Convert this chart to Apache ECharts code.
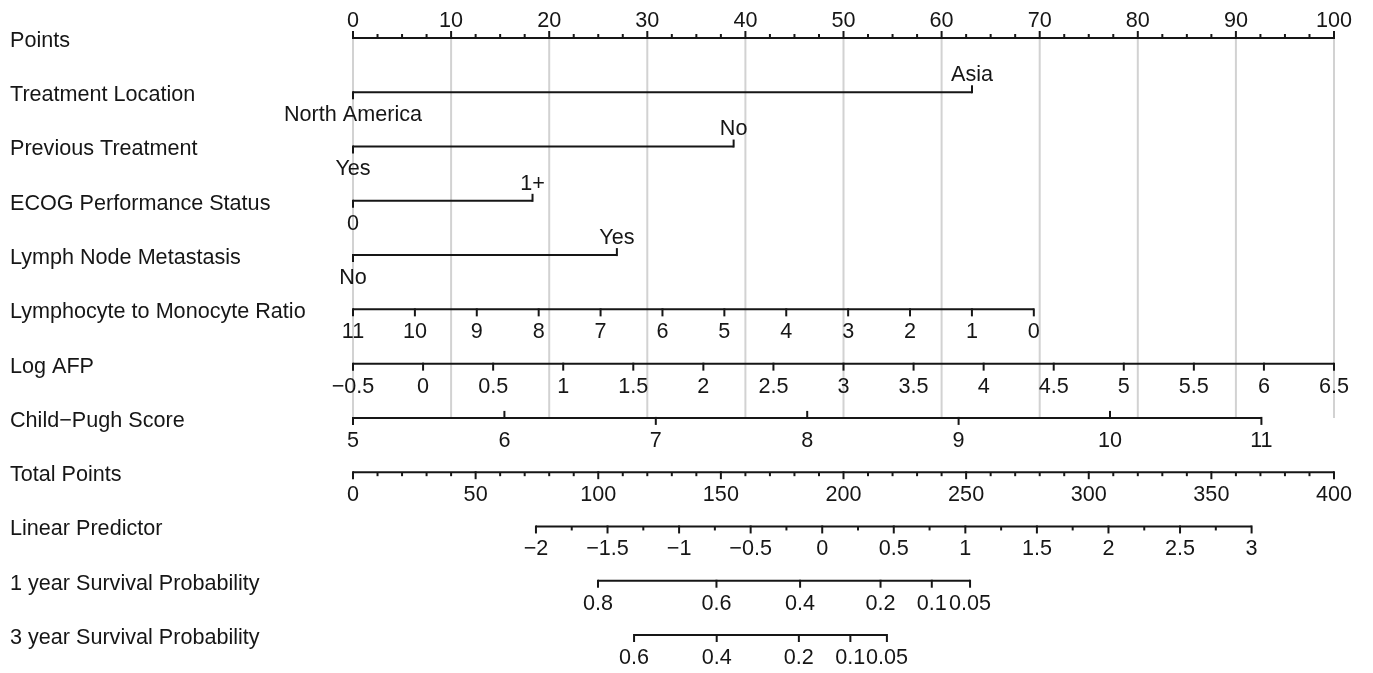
<!DOCTYPE html>
<html>
<head>
<meta charset="utf-8">
<title>Nomogram</title>
<script src="https://cdn.jsdelivr.net/npm/echarts@6/dist/echarts.min.js"></script>
<style>
  html, body { margin: 0; padding: 0; background: #fff; }
  #chart { width: 1373px; height: 673px; }
</style>
</head>
<body>
<div id="chart"></div>
<script>
// row titles, top to bottom
const rowNames = [
    'Points', 'Treatment Location', 'Previous Treatment', 'ECOG Performance Status',
    'Lymph Node Metastasis', 'Lymphocyte to Monocyte Ratio', 'Log AFP', 'Child\u2212Pugh Score',
    'Total Points', 'Linear Predictor', '1 year Survival Probability', '3 year Survival Probability'
];

const pointsTicks = [0, 10, 20, 30, 40, 50, 60, 70, 80, 90, 100];

// categorical predictors: levels and the points they score
const locationLevels = ['North America', 'Asia'];
const locationPoints = [0, 63.1];
const previousLevels = ['Yes', 'No'];
const previousPoints = [0, 38.8];
const ecogLevels = ['0', '1+'];
const ecogPoints = [0, 18.3];
const lymphLevels = ['No', 'Yes'];
const lymphPoints = [0, 26.9];

// continuous predictors: tick values and points at the two ends
const lmrTicks = [11, 10, 9, 8, 7, 6, 5, 4, 3, 2, 1, 0];
const lmrRange = [0, 69.4];
const afpTicks = [-0.5, 0, 0.5, 1, 1.5, 2, 2.5, 3, 3.5, 4, 4.5, 5, 5.5, 6, 6.5];
const afpRange = [0, 100];
const childTicks = [5, 6, 7, 8, 9, 10, 11];
const childRange = [0, 92.6];
const childTickUp = [false, true, false, true, false, true, false];

// outcome scales
const totalTicks = [0, 50, 100, 150, 200, 250, 300, 350, 400];
const lpTicks = [-2, -1.5, -1, -0.5, 0, 0.5, 1, 1.5, 2, 2.5, 3];
const lpTotalRange = [74.6, 366.4];
const surv1Ticks = [0.8, 0.6, 0.4, 0.2, 0.1, 0.05];
const surv1Total = [99.9, 148.2, 182.3, 215.1, 236.0, 251.6];
const surv3Ticks = [0.6, 0.4, 0.2, 0.1, 0.05];
const surv3Total = [114.6, 148.3, 181.8, 202.8, 217.7];

const ink = '#161616';
const gridGray = '#d2d2d2';
const fontSize = 21.6;
const fontFamily = '"Liberation Sans", Arial, sans-serif';
const font = fontSize + 'px ' + fontFamily;

function num(v) { return String(v).replace('-', '\u2212'); }
function lin(v, a, b, p0, p1) { return p0 + (v - a) / (b - a) * (p1 - p0); }
function totalToPoints(t) { return lin(t, 0, 400, 0, 100); }
function steps(from, to, step, skip) {
    let out = [];
    for (let k = 0; from + k * step <= to + 1e-9; k++) {
        let v = from + k * step;
        if (Math.abs(v / skip - Math.round(v / skip)) > 1e-6) out.push(v);
    }
    return out;
}
function categorical(levels, pts) {
    return {
        ticks: [
            { at: pts[0], text: levels[0], up: false, above: false },
            { at: pts[1], text: levels[1], up: true, above: true }
        ],
        minor: []
    };
}

const rows = [
    {
        ticks: pointsTicks.map(v => ({ at: v, text: num(v), up: true, above: true })),
        minor: steps(0, 100, 2.5, 10), minorUp: true
    },
    categorical(locationLevels, locationPoints),
    categorical(previousLevels, previousPoints),
    categorical(ecogLevels, ecogPoints),
    categorical(lymphLevels, lymphPoints),
    {
        ticks: lmrTicks.map(v => ({ at: lin(v, 11, 0, lmrRange[0], lmrRange[1]), text: num(v), up: false, above: false })),
        minor: []
    },
    {
        ticks: afpTicks.map(v => ({ at: lin(v, -0.5, 6.5, afpRange[0], afpRange[1]), text: num(v), up: false, above: false })),
        minor: []
    },
    {
        ticks: childTicks.map((v, i) => ({ at: lin(v, 5, 11, childRange[0], childRange[1]), text: num(v), up: childTickUp[i], above: false })),
        minor: []
    },
    {
        ticks: totalTicks.map(v => ({ at: totalToPoints(v), text: num(v), up: false, above: false })),
        minor: steps(0, 400, 10, 50).map(totalToPoints)
    },
    {
        ticks: lpTicks.map(v => ({ at: totalToPoints(lin(v, -2, 3, lpTotalRange[0], lpTotalRange[1])), text: num(v), up: false, above: false })),
        minor: steps(-2, 3, 0.25, 0.5).map(v => totalToPoints(lin(v, -2, 3, lpTotalRange[0], lpTotalRange[1])))
    },
    {
        ticks: surv1Ticks.map((v, i) => ({ at: totalToPoints(surv1Total[i]), text: num(v), up: false, above: false })),
        minor: []
    },
    {
        ticks: surv3Ticks.map((v, i) => ({ at: totalToPoints(surv3Total[i]), text: num(v), up: false, above: false })),
        minor: []
    }
];

function renderRow(params, api) {
    const idx = params.dataIndex;
    const row = rows[idx];
    const origin = api.coord([0, idx]);
    const y = origin[1];
    const px = v => api.coord([v, idx])[0];
    const children = [];
    // row title, left aligned
    children.push({
        type: 'text', x: origin[0] - 343, y: y + 3,
        style: { text: rowNames[idx], fill: ink, font: font, align: 'left', verticalAlign: 'middle' }
    });
    const xs = row.ticks.map(t => px(t.at));
    children.push({
        type: 'line',
        shape: { x1: Math.min.apply(null, xs), y1: y, x2: Math.max.apply(null, xs), y2: y },
        style: { stroke: ink, lineWidth: 2 }
    });
    row.minor.forEach(m => {
        const x = px(m);
        const d = row.minorUp ? -1 : 1;
        children.push({ type: 'line', shape: { x1: x, y1: y, x2: x, y2: y + d * 4 }, style: { stroke: ink, lineWidth: 2 } });
    });
    row.ticks.forEach(t => {
        const x = px(t.at);
        const d = t.up ? -1 : 1;
        children.push({ type: 'line', shape: { x1: x, y1: y - d, x2: x, y2: y + d * 7 }, style: { stroke: ink, lineWidth: 2 } });
        children.push({
            type: 'text', x: x, y: t.above ? y - 17 : y + 23,
            style: { text: t.text, fill: ink, font: font, align: 'center', verticalAlign: 'middle' }
        });
    });
    return { type: 'group', children: children };
}

function renderGuides(params, api) {
    const top = api.coord([0, 0])[1];
    const bottom = api.coord([0, 7])[1];
    return {
        type: 'group',
        children: pointsTicks.map(v => {
            const x = api.coord([v, 0])[0];
            return { type: 'line', shape: { x1: x, y1: top, x2: x, y2: bottom }, style: { stroke: gridGray, lineWidth: 2 } };
        })
    };
}

const chart = echarts.init(document.getElementById('chart'));
chart.setOption({
    backgroundColor: '#fff',
    animation: false,
    grid: { left: 353, right: 39, top: 38, bottom: 38 },
    xAxis: { type: 'value', min: 0, max: 100, show: false },
    yAxis: {
        type: 'category',
        data: rowNames,
        inverse: true,
        boundaryGap: false,
        show: false
    },
    series: [
        {
            type: 'custom',
            renderItem: renderGuides,
            data: [[0, 0]],
            z: 1,
            silent: true
        },
        {
            type: 'custom',
            renderItem: renderRow,
            data: rows.map((r, i) => [0, i]),
            z: 2,
            silent: true
        }
    ]
});
</script>
</body>
</html>
